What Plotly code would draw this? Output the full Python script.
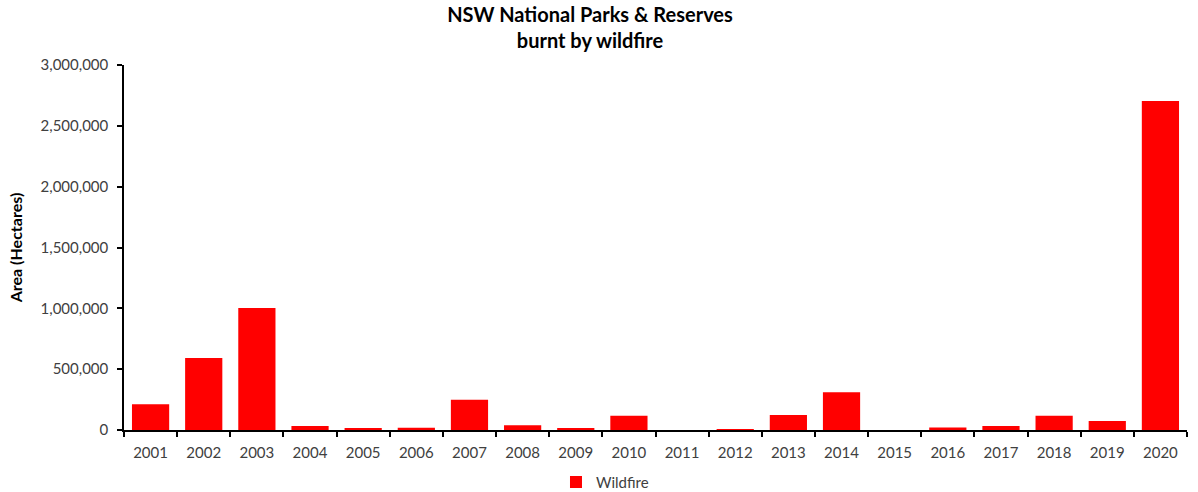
import plotly.graph_objects as go

years = [str(y) for y in range(2001, 2021)]
wildfire_ha = [211000, 592000, 1003000, 33000, 14000, 19000, 249000, 39000, 14000, 118000,
               0, 7000, 123000, 310000, 0, 20000, 33000, 118000, 74000, 2704000]
y_ticks = [0, 500000, 1000000, 1500000, 2000000, 2500000, 3000000]

FONT = "Lato"
TICK_COLOR = "#404040"

fig = go.Figure()
fig.add_trace(go.Bar(
    x=years, y=wildfire_ha, name="Wildfire",
    marker=dict(color="#FF0000", line=dict(width=0)),
    showlegend=True,
))

fig.update_layout(
    width=1198, height=492,
    margin=dict(l=124, r=11, t=65, b=62),
    paper_bgcolor="white", plot_bgcolor="white",
    font=dict(family=FONT, size=15, color=TICK_COLOR),
    bargap=0.30,
    title=dict(
        text="<b>NSW National Parks & Reserves<br>burnt by wildfire</b>",
        x=0.4925, xanchor="center", xref="container",
        y=0.955, yanchor="top", yref="container",
        font=dict(family=FONT, size=20, color="#000000"),
    ),
    showlegend=True,
    legend=dict(
        orientation="h", x=0.505, xanchor="center", xref="container",
        y=0.02, yanchor="middle", yref="container",
        font=dict(family=FONT, size=15, color=TICK_COLOR),
        itemwidth=30,
    ),
    xaxis=dict(
        type="category",
        automargin=False,
        showline=True, linecolor="#000000", linewidth=1.5,
        ticks="outside", tickson="boundaries", ticklen=5, tickcolor="#000000", tickwidth=1.5,
        showgrid=False, zeroline=False,
        ticklabelstandoff=8,
        tickfont=dict(family=FONT, size=15, color=TICK_COLOR),
    ),
    yaxis=dict(
        range=[0, 3000000],
        automargin=False,
        tickvals=y_ticks,
        tickformat=",d",
        showline=True, linecolor="#000000", linewidth=1.5,
        ticks="outside", ticklen=5, tickcolor="#000000", tickwidth=1.5,
        showgrid=False, zeroline=False,
        ticklabelstandoff=6,
        tickfont=dict(family=FONT, size=15, color=TICK_COLOR),
        title=dict(text="<b>Area (Hectares)</b>", standoff=14,
                   font=dict(family=FONT, size=16, color="#000000")),
    ),
)

fig.write_html("out.html")
